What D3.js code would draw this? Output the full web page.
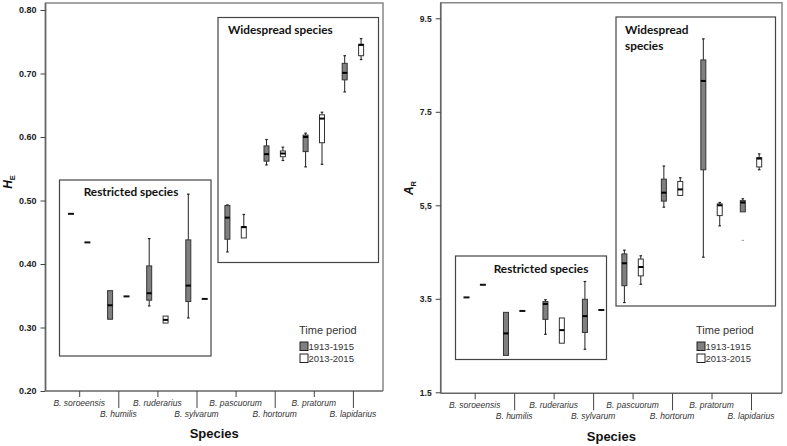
<!DOCTYPE html>
<html>
<head>
<meta charset="utf-8">
<script src="https://cdn.jsdelivr.net/npm/d3@7"></script>
<style>
  body { margin: 0; background: #fff; }
  svg { display: block; }
  .tick-y text { font-family: "Liberation Sans", Arial, sans-serif; font-weight: bold; fill: #222; }
  .xlab { font-family: "Liberation Sans", Arial, sans-serif; font-style: italic; font-size: 8.5px; fill: #333; }
  .inset-title { font-family: Lato, "Open Sans", sans-serif; font-weight: bold; font-size: 11.8px; fill: #111; }
  .legend { font-family: "Liberation Sans", Arial, sans-serif; fill: #333; }
</style>
</head>
<body>
<div id="chart"></div>
<script>
// ============ data ============
const species = ['B. soroeensis', 'B. humilis', 'B. ruderarius', 'B. sylvarum',
  'B. pascuorum', 'B. hortorum', 'B. pratorum', 'B. lapidarius'];
const periods = ['1913-1915', '2013-2015'];

// [min, q1, median, q3, max] per species
const heOld = [
  [0.479, 0.479, 0.479, 0.479, 0.479],
  [0.313, 0.313, 0.335, 0.358, 0.358],
  [0.334, 0.343, 0.354, 0.397, 0.440],
  [0.315, 0.341, 0.366, 0.438, 0.510],
  [0.419, 0.439, 0.473, 0.492, 0.493],
  [0.556, 0.562, 0.573, 0.586, 0.596],
  [0.553, 0.577, 0.600, 0.603, 0.606],
  [0.671, 0.690, 0.701, 0.716, 0.728]
];
const heNew = [
  [0.434, 0.434, 0.434, 0.434, 0.434],
  [0.349, 0.349, 0.349, 0.349, 0.349],
  [0.307, 0.307, 0.312, 0.318, 0.318],
  [0.345, 0.345, 0.345, 0.345, 0.345],
  [0.441, 0.441, 0.458, 0.459, 0.478],
  [0.563, 0.569, 0.574, 0.578, 0.584],
  [0.557, 0.591, 0.629, 0.635, 0.639],
  [0.722, 0.728, 0.745, 0.746, 0.755]
];
const arOld = [
  [3.53, 3.53, 3.53, 3.53, 3.53],
  [2.29, 2.29, 2.76, 3.21, 3.21],
  [2.74, 3.06, 3.39, 3.44, 3.48],
  [2.42, 2.78, 3.13, 3.49, 3.87],
  [3.42, 3.78, 4.26, 4.46, 4.54],
  [5.46, 5.59, 5.77, 6.06, 6.34],
  [4.39, 6.26, 8.16, 8.61, 9.06],
  [5.36, 5.36, 5.56, 5.60, 5.64]
];
const arNew = [
  [3.80, 3.80, 3.80, 3.80, 3.80],
  [3.24, 3.24, 3.24, 3.24, 3.24],
  [2.55, 2.55, 2.83, 3.09, 3.09],
  [3.26, 3.26, 3.26, 3.26, 3.26],
  [3.81, 3.99, 4.18, 4.35, 4.42],
  [5.71, 5.71, 5.84, 6.01, 6.09],
  [5.06, 5.28, 5.50, 5.53, 5.56],
  [6.26, 6.32, 6.50, 6.52, 6.60]
];
const arOutliers = [{ species: 'B. lapidarius', period: 0, value: 4.75 }];

const heTicks = [0.20, 0.30, 0.40, 0.50, 0.60, 0.70, 0.80];
const heTickLabels = ['0.20', '0.30', '0.40', '0.50', '0.60', '0.70', '0.80'];
const arTicks = [1.5, 3.5, 5.5, 7.5, 9.5];
const arTickLabels = ['1.5', '3.5', '5,5', '7.5', '9.5'];

const fills = ['#808080', '#ffffff'];

// ============ svg ============
const svg = d3.select('#chart').append('svg')
  .attr('width', 787).attr('height', 446);

const panels = [
  {
    old: heOld, now: heNew, outliers: [],
    ticks: heTicks, tickLabels: heTickLabels, tickFont: 9,
    title: 'H', sub: 'E', titleX: 12, titleY: 182,
    left: 45.5, right: 383, top: 3, bottom: 391,
    yDomain: [0.2, 0.8], yRange: [391, 10],
    xRange: [79.2, 352.9],
    restricted: { x0: 59.5, y0: 180, x1: 211, y1: 356, lines: ['Restricted species'], tx: 131, ty: 196, anchor: 'middle' },
    widespread: { x0: 218, y0: 17.5, x1: 378.5, y1: 262.5, lines: ['Widespread species'], tx: 228, ty: 34, anchor: 'start' },
    legendX: 299, legendY: 329,
    speciesY: 438
  },
  {
    old: arOld, now: arNew, outliers: arOutliers,
    ticks: arTicks, tickLabels: arTickLabels, tickFont: 8.5,
    title: 'A', sub: 'R', titleX: 413, titleY: 188,
    left: 440.7, right: 782, top: 2.7, bottom: 393.3,
    yDomain: [1.5, 9.5], yRange: [392.3, 18.3],
    xRange: [474.7, 751],
    restricted: { x0: 455.5, y0: 256, x1: 606.5, y1: 359.5, lines: ['Restricted species'], tx: 541, ty: 272.5, anchor: 'middle' },
    widespread: { x0: 616, y0: 17, x1: 775.5, y1: 306, lines: ['Widespread', 'species'], tx: 625, ty: 34, anchor: 'start' },
    legendX: 696, legendY: 329,
    speciesY: 441
  }
];

panels.forEach(drawPanel);

function drawPanel(p) {
  const g = svg.append('g');

  const y = d3.scaleLinear().domain(p.yDomain).range(p.yRange);
  const x = d3.scalePoint().domain(species).range(p.xRange);
  const off = d3.scalePoint().domain([0, 1]).range([-8.2, 8.2]);

  // 外框
  g.append('path')
    .attr('d', `M${p.left},${p.bottom}V${p.top}H${p.right}V${p.bottom}`)
    .attr('fill', 'none').attr('stroke', '#888').attr('stroke-width', 1.5);

  // 插图框
  [p.restricted, p.widespread].forEach(b => {
    g.append('rect')
      .attr('x', b.x0).attr('y', b.y0)
      .attr('width', b.x1 - b.x0).attr('height', b.y1 - b.y0)
      .attr('fill', 'none').attr('stroke', '#444').attr('stroke-width', 1.2);
    b.lines.forEach((t, i) => {
      g.append('text').attr('class', 'inset-title')
        .attr('x', b.tx).attr('y', b.ty + i * 15.5)
        .attr('text-anchor', b.anchor)
        .text(t);
    });
  });

  // y 轴
  const yAxis = g.append('g')
    .attr('class', 'tick-y')
    .attr('transform', `translate(${p.left},0)`)
    .call(d3.axisLeft(y).tickValues(p.ticks).tickSize(5).tickPadding(4)
      .tickFormat((d, i) => p.tickLabels[i]));
  yAxis.select('.domain').attr('stroke', '#666').attr('stroke-width', 1.5)
    .attr('d', `M0,${p.bottom}V${p.top}`);
  yAxis.selectAll('.tick line').attr('stroke', '#444');
  yAxis.selectAll('.tick text').attr('font-size', p.tickFont);

  // x 轴
  const xAxis = g.append('g')
    .attr('transform', `translate(0,${p.bottom})`)
    .call(d3.axisBottom(x).tickSize(6).tickFormat(''));
  xAxis.select('.domain').attr('stroke', '#666').attr('stroke-width', 1.5)
    .attr('d', `M${p.left},0H${p.right}`);
  xAxis.selectAll('.tick line')
    .attr('stroke', '#444')
    .attr('y2', (d, i) => i % 2 ? 17 : 6);
  species.forEach((s, i) => {
    g.append('text').attr('class', 'xlab')
      .attr('x', x(s)).attr('y', p.bottom + (i % 2 ? 25.5 : 14.5))
      .attr('text-anchor', 'middle')
      .text(s);
  });

  g.append('text')
    .attr('x', (p.left + p.right) / 2).attr('y', p.speciesY)
    .attr('text-anchor', 'middle')
    .attr('font-family', '"Liberation Sans", Arial, sans-serif')
    .attr('font-weight', 'bold').attr('font-size', 13).attr('fill', '#111')
    .text('Species');

  // y 轴标题
  const yt = g.append('text')
    .attr('transform', `translate(${p.titleX},${p.titleY}) rotate(-90)`)
    .attr('text-anchor', 'middle')
    .attr('font-family', '"Liberation Sans", Arial, sans-serif')
    .attr('font-weight', 'bold').attr('fill', '#111');
  yt.append('tspan').attr('font-size', 12).attr('font-style', 'italic').text(p.title);
  yt.append('tspan').attr('font-size', 7.5).attr('dy', 3).text(p.sub);

  // 箱线图
  const boxes = [];
  species.forEach((s, i) => {
    boxes.push({ s, period: 0, v: p.old[i] });
    boxes.push({ s, period: 1, v: p.now[i] });
  });
  const bw = 5;
  boxes.forEach(b => {
    const cx = x(b.s) + off(b.period);
    const [mn, q1, md, q3, mx] = b.v;
    const bg = g.append('g');
    if (q1 === q3) {
      bg.append('line')
        .attr('x1', cx - 3).attr('x2', cx + 3)
        .attr('y1', y(md)).attr('y2', y(md))
        .attr('stroke', '#111').attr('stroke-width', 2);
      return;
    }
    // whiskers
    if (mx > q3) {
      bg.append('line').attr('x1', cx).attr('x2', cx).attr('y1', y(q3)).attr('y2', y(mx))
        .attr('stroke', '#222').attr('stroke-width', 1);
      bg.append('line').attr('x1', cx - 1.3).attr('x2', cx + 1.3).attr('y1', y(mx)).attr('y2', y(mx))
        .attr('stroke', '#222').attr('stroke-width', 1.2);
    }
    if (mn < q1) {
      bg.append('line').attr('x1', cx).attr('x2', cx).attr('y1', y(q1)).attr('y2', y(mn))
        .attr('stroke', '#222').attr('stroke-width', 1);
      bg.append('line').attr('x1', cx - 1.3).attr('x2', cx + 1.3).attr('y1', y(mn)).attr('y2', y(mn))
        .attr('stroke', '#222').attr('stroke-width', 1.2);
    }
    bg.append('rect')
      .attr('x', cx - bw / 2).attr('y', y(q3))
      .attr('width', bw).attr('height', y(q1) - y(q3))
      .attr('fill', fills[b.period]).attr('stroke', '#333').attr('stroke-width', 1);
    bg.append('line')
      .attr('x1', cx - bw / 2).attr('x2', cx + bw / 2)
      .attr('y1', y(md)).attr('y2', y(md))
      .attr('stroke', '#000').attr('stroke-width', 2);
  });

  // 离群值
  p.outliers.forEach(o => {
    const cx = x(o.species) + off(o.period);
    g.append('line')
      .attr('x1', cx - 1.2).attr('x2', cx + 1.2)
      .attr('y1', y(o.value)).attr('y2', y(o.value))
      .attr('stroke', '#999').attr('stroke-width', 1);
  });

  // 图例
  const lg = g.append('g').attr('class', 'legend');
  lg.append('text').attr('x', p.legendX).attr('y', p.legendY + 4.5)
    .attr('font-size', 11).text('Time period');
  periods.forEach((t, i) => {
    const yy = p.legendY + 13 + i * 12;
    lg.append('rect')
      .attr('x', p.legendX + 1).attr('y', yy)
      .attr('width', 8).attr('height', 8.5)
      .attr('fill', fills[i]).attr('stroke', '#222').attr('stroke-width', 1);
    lg.append('text').attr('x', p.legendX + 9.5).attr('y', yy + 8)
      .attr('font-size', 9.5).text(t);
  });
}
</script>
</body>
</html>
